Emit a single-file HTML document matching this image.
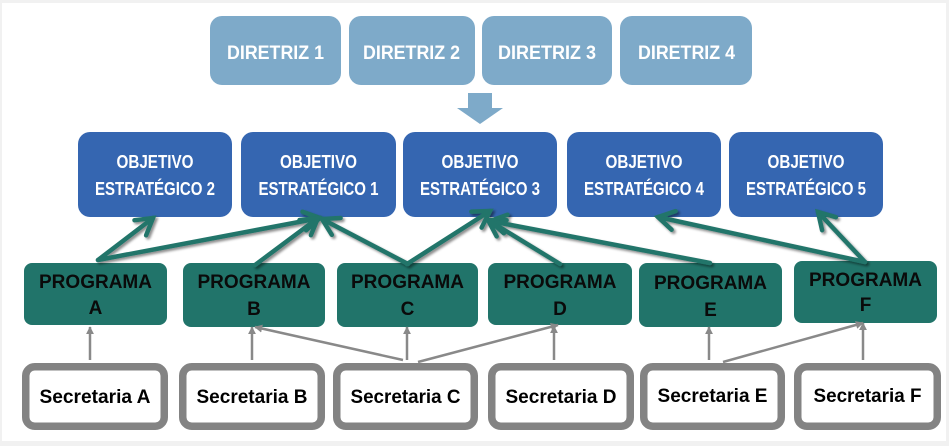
<!DOCTYPE html>
<html>
<head>
<meta charset="utf-8">
<style>
  html, body { margin:0; padding:0; }
  body { width:949px; height:446px; overflow:hidden; background:#f1f1f1; }
  svg { display:block; }
  .dir { font-family:"Liberation Sans", sans-serif; font-weight:bold; fill:#fff; font-size:19px; }
  .obj { font-family:"Liberation Sans", sans-serif; font-weight:bold; fill:#fff; font-size:18px; }
  .prg { font-family:"Liberation Sans", sans-serif; font-weight:bold; fill:#0a0a0a; font-size:19px; }
  .sec { font-family:"Liberation Sans", sans-serif; font-weight:bold; fill:#000; font-size:19px; }
</style>
</head>
<body>
<svg width="949" height="446" viewBox="0 0 949 446" xmlns="http://www.w3.org/2000/svg">
  <defs>
    <filter id="sh" x="-20%" y="-20%" width="140%" height="140%">
      <feDropShadow dx="2" dy="2" stdDeviation="1.3" flood-color="#000" flood-opacity="0.45"/>
    </filter>
    <marker id="ga" viewBox="0 0 10 10" refX="9" refY="5" markerUnits="userSpaceOnUse" markerWidth="8" markerHeight="8" orient="auto">
      <path d="M0,0 L10,5 L0,10 z" fill="#898989"/>
    </marker>
  </defs>

  <!-- white canvas -->
  <rect x="2" y="3" width="944" height="438" fill="#ffffff"/>

  <!-- Diretrizes -->
  <g fill="#7eaac9">
    <rect x="210" y="16" width="131" height="69" rx="12"/>
    <rect x="349" y="16" width="126" height="69" rx="12"/>
    <rect x="482" y="16" width="130" height="69" rx="12"/>
    <rect x="620" y="16" width="132" height="69" rx="12"/>
    <polygon points="468,93 492,93 492,108 503,108 480,124 457,108 468,108"/>
  </g>
  <text class="dir" x="227" y="59" textLength="97" lengthAdjust="spacingAndGlyphs">DIRETRIZ 1</text>
  <text class="dir" x="363" y="59" textLength="97" lengthAdjust="spacingAndGlyphs">DIRETRIZ 2</text>
  <text class="dir" x="498" y="59" textLength="98" lengthAdjust="spacingAndGlyphs">DIRETRIZ 3</text>
  <text class="dir" x="638" y="59" textLength="97" lengthAdjust="spacingAndGlyphs">DIRETRIZ 4</text>

  <!-- Objetivos -->
  <g fill="#3566b1">
    <rect x="78" y="132" width="154" height="85" rx="12"/>
    <rect x="241" y="132" width="155" height="85" rx="12"/>
    <rect x="403" y="132" width="154" height="85" rx="12"/>
    <rect x="567" y="132" width="154" height="85" rx="12"/>
    <rect x="729" y="132" width="154" height="85" rx="12"/>
  </g>
  <g class="obj" text-anchor="middle">
    <text x="155" y="168" textLength="77" lengthAdjust="spacingAndGlyphs">OBJETIVO</text>
    <text x="155" y="195" textLength="120" lengthAdjust="spacingAndGlyphs">ESTRATÉGICO 2</text>
    <text x="318.5" y="168" textLength="77" lengthAdjust="spacingAndGlyphs">OBJETIVO</text>
    <text x="318.5" y="195" textLength="120" lengthAdjust="spacingAndGlyphs">ESTRATÉGICO 1</text>
    <text x="480" y="168" textLength="77" lengthAdjust="spacingAndGlyphs">OBJETIVO</text>
    <text x="480" y="195" textLength="120" lengthAdjust="spacingAndGlyphs">ESTRATÉGICO 3</text>
    <text x="644" y="168" textLength="77" lengthAdjust="spacingAndGlyphs">OBJETIVO</text>
    <text x="644" y="195" textLength="120" lengthAdjust="spacingAndGlyphs">ESTRATÉGICO 4</text>
    <text x="806" y="168" textLength="77" lengthAdjust="spacingAndGlyphs">OBJETIVO</text>
    <text x="806" y="195" textLength="120" lengthAdjust="spacingAndGlyphs">ESTRATÉGICO 5</text>
  </g>

  <!-- Programas -->
  <g fill="#21746a">
    <rect x="24" y="263" width="143" height="62" rx="8"/>
    <rect x="183" y="263" width="142" height="64" rx="8"/>
    <rect x="337" y="263" width="141" height="64" rx="8"/>
    <rect x="488" y="263" width="144" height="62" rx="8"/>
    <rect x="639" y="263" width="143" height="64" rx="8"/>
    <rect x="794" y="261" width="143" height="62" rx="8"/>
  </g>
  <g class="prg" text-anchor="middle">
    <text x="95.5" y="288" textLength="113" lengthAdjust="spacingAndGlyphs">PROGRAMA</text>
    <text x="95.5" y="314">A</text>
    <text x="254" y="288" textLength="113" lengthAdjust="spacingAndGlyphs">PROGRAMA</text>
    <text x="254" y="315">B</text>
    <text x="407.5" y="288" textLength="113" lengthAdjust="spacingAndGlyphs">PROGRAMA</text>
    <text x="407.5" y="315">C</text>
    <text x="560" y="288" textLength="113" lengthAdjust="spacingAndGlyphs">PROGRAMA</text>
    <text x="560" y="315">D</text>
    <text x="710.5" y="289" textLength="113" lengthAdjust="spacingAndGlyphs">PROGRAMA</text>
    <text x="710.5" y="316">E</text>
    <text x="865.5" y="286" textLength="113" lengthAdjust="spacingAndGlyphs">PROGRAMA</text>
    <text x="865.5" y="311">F</text>
  </g>

  <!-- Secretarias -->
  <g fill="#ffffff" stroke="#838383" stroke-width="7.5">
    <rect x="25.75" y="366.75" width="138.5" height="59.5" rx="9"/>
    <rect x="182.75" y="366.75" width="138.5" height="59.5" rx="9"/>
    <rect x="336.75" y="366.75" width="137.5" height="59.5" rx="9"/>
    <rect x="491.75" y="366.75" width="138.5" height="59.5" rx="9"/>
    <rect x="643.75" y="366.75" width="137.5" height="59.5" rx="9"/>
    <rect x="797.75" y="366.75" width="139.5" height="59.5" rx="9"/>
  </g>
  <g class="sec" text-anchor="middle">
    <text x="95" y="403" textLength="111" lengthAdjust="spacingAndGlyphs">Secretaria A</text>
    <text x="252" y="403" textLength="111" lengthAdjust="spacingAndGlyphs">Secretaria B</text>
    <text x="405.5" y="403" textLength="110" lengthAdjust="spacingAndGlyphs">Secretaria C</text>
    <text x="561" y="403" textLength="111" lengthAdjust="spacingAndGlyphs">Secretaria D</text>
    <text x="712.5" y="402" textLength="110" lengthAdjust="spacingAndGlyphs">Secretaria E</text>
    <text x="867.5" y="402" textLength="108" lengthAdjust="spacingAndGlyphs">Secretaria F</text>
  </g>

  <!-- Gray arrows -->
  <g stroke="#898989" stroke-width="2.5" fill="none" marker-end="url(#ga)">
    <line x1="90" y1="360" x2="90" y2="327"/>
    <line x1="252" y1="360" x2="252" y2="327"/>
    <line x1="403" y1="360" x2="255" y2="327"/>
    <line x1="407" y1="360" x2="407" y2="327"/>
    <line x1="418" y1="362" x2="558" y2="325"/>
    <line x1="554" y1="360" x2="554" y2="326"/>
    <line x1="709" y1="360" x2="709" y2="327"/>
    <line x1="723" y1="362" x2="863" y2="323"/>
    <line x1="863" y1="360" x2="863" y2="323"/>
  </g>

  <!-- Green arrows -->
  <g stroke="#21746a" stroke-width="4.5" fill="none" stroke-linecap="round" stroke-linejoin="miter" filter="url(#sh)">
    <line x1="98" y1="260" x2="153" y2="218"/>
    <polyline points="146.1,235.3 153,218 134.5,220.2"/>
    <line x1="98" y1="260" x2="320" y2="218"/>
    <polyline points="306.1,230.3 320,218 302.5,211.7"/>
    <line x1="255" y1="265" x2="318" y2="218"/>
    <polyline points="310.9,235.2 318,218 299.5,220"/>
    <line x1="408" y1="264" x2="322" y2="219"/>
    <polyline points="340.6,218 322,219 331.8,234.8"/>
    <line x1="407" y1="264" x2="490" y2="211"/>
    <polyline points="481.6,227.6 490,211 471.4,211.6"/>
    <line x1="560" y1="264" x2="488" y2="220"/>
    <polyline points="506.6,220.2 488,220 496.7,236.4"/>
    <line x1="710" y1="263" x2="490" y2="221"/>
    <polyline points="507.5,214.7 490,221 503.9,233.3"/>
    <line x1="865" y1="262" x2="658" y2="217"/>
    <polyline points="675.6,211.1 658,217 671.6,229.7"/>
    <line x1="865" y1="262" x2="818" y2="212"/>
    <polyline points="835.9,217.2 818,212 822.1,230.2"/>
  </g>
</svg>
</body>
</html>
